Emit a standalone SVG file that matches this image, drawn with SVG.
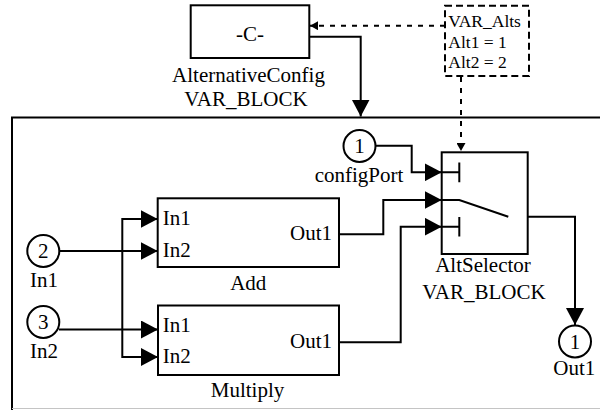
<svg xmlns="http://www.w3.org/2000/svg" width="600" height="410" viewBox="0 0 600 410">
<style>
  .blk { fill: #fff; stroke: #000; stroke-width: 2; }
  .port { fill: #fff; stroke: #000; stroke-width: 2; }
  .ln { fill: none; stroke: #000; stroke-width: 2; }
  .sig { fill: none; stroke: #000; stroke-width: 2; marker-end: url(#ah); }
  .dash { fill: none; stroke: #000; stroke-width: 2; stroke-dasharray: 5 6; marker-end: url(#sah); }
  .box { fill: #fff; stroke: #000; stroke-width: 2; stroke-dasharray: 7 4; }
  text { font-family: "Liberation Serif", "DejaVu Serif", serif; font-size: 21px; fill: #000; }
  .mid { text-anchor: middle; }
  .end { text-anchor: end; }
  .small { font-size: 17.5px; }
</style>
<defs>
  <marker id="ah" viewBox="0 0 17 18" refX="17" refY="9" markerWidth="17" markerHeight="18" markerUnits="userSpaceOnUse" orient="auto">
    <path d="M0,0 L17,9 L0,18 Z" fill="#000"/>
  </marker>
  <marker id="sah" viewBox="0 0 8 9" refX="8" refY="4.5" markerWidth="8" markerHeight="9" markerUnits="userSpaceOnUse" orient="auto">
    <path d="M0,0 L8,4.5 L0,9 Z" fill="#000"/>
  </marker>
</defs>
<rect width="600" height="410" fill="#fff"/>

<g id="subsystem-frame">
  <path class="ln" d="M12,412 V117.5 H602"/>
  <line x1="12" y1="408.5" x2="600" y2="408.5" stroke="#c4c4c4" stroke-width="1"/>
</g>

<g id="connectors">
  <path class="sig" d="M309.5,36.7 H360.7 V116.5"/>
  <path class="dash" d="M445,25.7 H310"/>
  <path class="dash" d="M461,77 V151"/>
  <path class="sig" d="M59.5,251 H157.7"/>
  <path class="sig" d="M122.3,290 V219 H157.7"/>
  <path class="sig" d="M122.3,290 V357 H158"/>
  <path class="sig" d="M59,329.5 H158"/>
  <path class="sig" d="M375.5,145.7 H411.7 V172.3 H441.7"/>
  <path class="sig" d="M339,234.3 H383.3 V200 H441.7"/>
  <path class="sig" d="M339,342.3 H400.7 V226.7 H441.7"/>
  <path class="sig" d="M508.3,216.8 H575 V325"/>
</g>

<g id="node-alternativeconfig">
  <rect class="blk" x="190.7" y="5.3" width="118.6" height="52.7"/>
  <text class="mid" x="250" y="40.5">-C-</text>
  <text class="mid" x="248.5" y="81.5">AlternativeConfig</text>
  <text class="mid" x="246" y="105.5">VAR_BLOCK</text>
</g>

<g id="node-var-alts">
  <rect class="box" x="445" y="5.7" width="84" height="70.3"/>
  <text class="small" x="448.3" y="26.7">VAR_Alts</text>
  <text class="small" x="448.3" y="48.3">Alt1 = 1</text>
  <text class="small" x="448.3" y="68.3">Alt2 = 2</text>
</g>

<g id="node-in1">
  <circle class="port" cx="43.3" cy="251" r="16"/>
  <text class="mid" x="43.3" y="258.3">2</text>
  <text class="mid" x="44" y="286.7">In1</text>
</g>

<g id="node-in2">
  <circle class="port" cx="43.3" cy="322" r="16"/>
  <text class="mid" x="43.3" y="329.3">3</text>
  <text class="mid" x="44" y="358.3">In2</text>
</g>

<g id="node-configport">
  <circle class="port" cx="359.5" cy="146" r="16"/>
  <text class="mid" x="359.5" y="153.3">1</text>
  <text class="mid" x="359" y="181.7">configPort</text>
</g>

<g id="node-add">
  <rect class="blk" x="157.7" y="198.3" width="181.3" height="68.7"/>
  <text x="162.7" y="225.3">In1</text>
  <text x="162.7" y="256.7">In2</text>
  <text class="end" x="332" y="240.3">Out1</text>
  <text class="mid" x="248.3" y="290">Add</text>
</g>

<g id="node-multiply">
  <rect class="blk" x="158" y="305.5" width="181" height="69.5"/>
  <text x="162.7" y="331.7">In1</text>
  <text x="162.7" y="363.3">In2</text>
  <text class="end" x="332" y="348.3">Out1</text>
  <text class="mid" x="247.5" y="396.7">Multiply</text>
</g>

<g id="node-altselector">
  <rect class="blk" x="441.7" y="152.3" width="86" height="101.7"/>
  <path class="ln" d="M441.7,172.3 H459.3 M459.3,162.5 V182.3"/>
  <path class="ln" d="M441.7,226.7 H459.3 M459.3,216.9 V236.6"/>
  <path class="ln" d="M441.7,200 H459.3 L508.3,216.8"/>
  <text class="mid" x="483" y="272.3">AltSelector</text>
  <text class="mid" x="484" y="299.3">VAR_BLOCK</text>
</g>

<g id="node-out1">
  <circle class="port" cx="575" cy="341.5" r="16"/>
  <text class="mid" x="575" y="348.8">1</text>
  <text class="mid" x="574.3" y="375">Out1</text>
</g>
</svg>
